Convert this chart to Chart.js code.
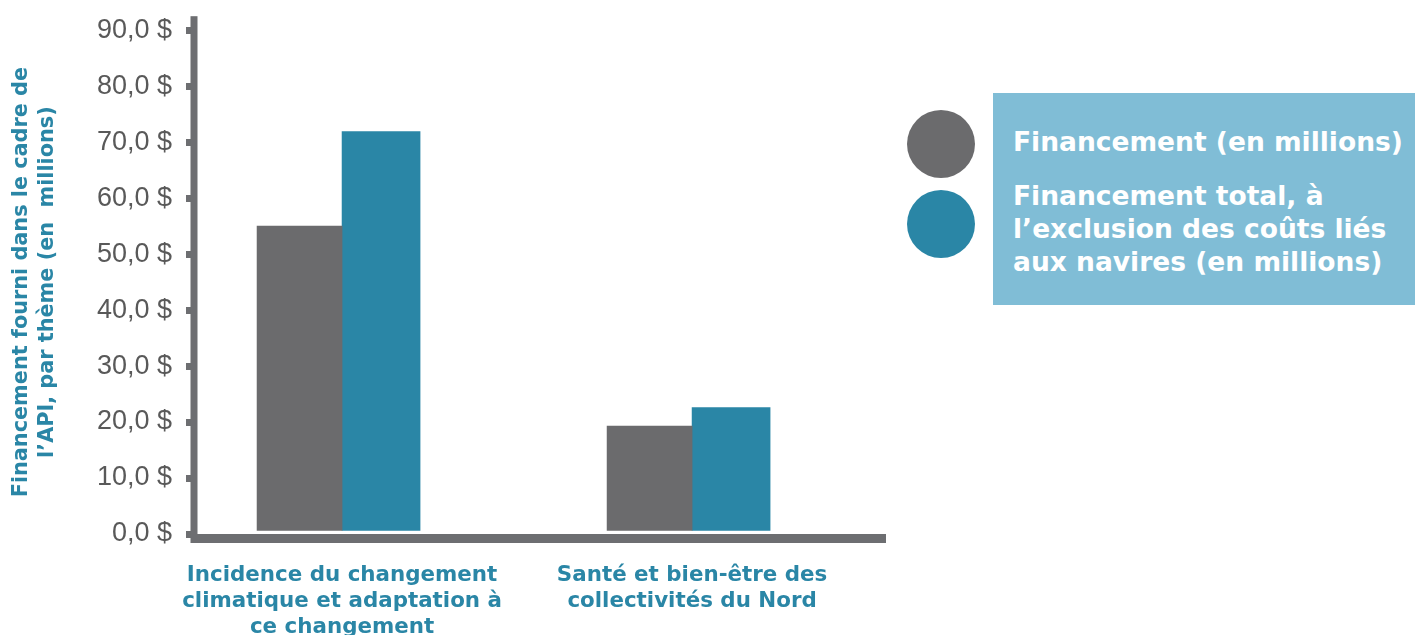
<!DOCTYPE html>
<html lang="fr">
<head>
<meta charset="utf-8">
<script src="https://cdn.jsdelivr.net/npm/chart.js@4.4.1/dist/chart.umd.min.js"></script>
<style>
  html, body { margin: 0; padding: 0; background: #ffffff; }
  #wrap { position: relative; width: 1415px; height: 635px; overflow: hidden; }
  #legend { position: absolute; left: 0; top: 0; width: 1415px; height: 635px; pointer-events: none; }
  .lg-box { position: absolute; left: 993px; top: 93px; width: 422px; height: 212px; background: #80bdd6; }
  .lg-dot { position: absolute; width: 68px; height: 68px; border-radius: 50%; left: 907px; }
  .lg-text { position: absolute; left: 1013px; color: #ffffff; font-family: "DejaVu Sans", sans-serif; font-weight: bold; font-size: 26.5px; line-height: 33px; white-space: nowrap; }
</style>
</head>
<body>
<div id="wrap">
  <canvas id="c" width="1415" height="635"></canvas>
  <div id="legend"></div>
</div>
<script>
// ---- data ----
const categories = [
  ["Incidence du changement", "climatique et adaptation à", "ce changement"],
  ["Santé et bien-être des", "collectivités du Nord"]
];
const seriesNames = [
  ["Financement (en millions)"],
  ["Financement total, à", "l’exclusion des coûts liés", "aux navires (en millions)"]
];
const financement = [55.0, 19.3];
const financementHorsNavires = [71.9, 22.6];
const yTickValues = [0, 10, 20, 30, 40, 50, 60, 70, 80, 90];
const yTitle = ["Financement fourni dans le cadre de", "l’API, par thème (en  millions)"];

// ---- style ----
const GRAY = "#6b6b6d";
const BLUE = "#2a86a6";
const TEAL = "#2a86a6";
const AXIS = "#6d6e71";

function toPoints(values) {
  return values.map((v, i) => ({ x: i + 1, y: v }));
}

const axesPlugin = {
  id: "axesLines",
  afterDatasetsDraw(chart) {
    const { ctx, chartArea } = chart;
    ctx.save();
    ctx.fillStyle = AXIS;
    ctx.fillRect(chartArea.left - 3.5, chartArea.top - 14, 7, chartArea.bottom - chartArea.top + 23);
    ctx.fillRect(chartArea.left - 2, chartArea.bottom, chartArea.right - chartArea.left + 2, 9);
    ctx.restore();
  }
};

const chart = new Chart(document.getElementById("c"), {
  type: "bar",
  data: {
    datasets: [
      { label: seriesNames[0].join(" "), data: toPoints(financement), backgroundColor: GRAY, barThickness: 85 },
      { label: seriesNames[1].join(" "), data: toPoints(financementHorsNavires), backgroundColor: BLUE, barThickness: 78 }
    ]
  },
  options: {
    responsive: false,
    animation: false,
    devicePixelRatio: 1,
    layout: { padding: { top: 30, right: 529, bottom: 0, left: 0 } },
    plugins: { legend: { display: false }, tooltip: { enabled: false } },
    scales: {
      x: {
        type: "linear",
        offset: false,
        bounds: "data",
        min: 0.577,
        max: 2.554,
        afterBuildTicks: (s) => { s.ticks = categories.map((c, i) => ({ value: i + 1 })); },
        afterFit: (s) => { s.height = 101; },
        grid: { display: false, drawTicks: false, offset: false },
        border: { display: false },
        ticks: {
          autoSkip: false,
          maxRotation: 0,
          padding: 29,
          color: TEAL,
          font: { family: "'DejaVu Sans', sans-serif", size: 21.4, weight: "bold", lineHeight: 1.2 },
          callback: (v) => categories[v - 1]
        }
      },
      y: {
        min: 0,
        max: 90,
        afterBuildTicks: (s) => { s.ticks = yTickValues.map(v => ({ value: v })); },
        afterFit: (s) => { s.width = 194; },
        grid: { drawOnChartArea: false, drawTicks: true, tickLength: 8, lineWidth: 7, color: AXIS },
        border: { display: false },
        ticks: {
          padding: 14,
          color: "#595959",
          font: { family: "'Liberation Sans', Arial, sans-serif", size: 27 },
          callback: (v) => v.toFixed(1).replace(".", ",") + " $"
        },
        title: {
          display: true,
          text: yTitle,
          color: TEAL,
          padding: { top: 9, bottom: 0 },
          font: { family: "'DejaVu Sans', sans-serif", size: 20.8, weight: "bold", lineHeight: 1.25 }
        }
      }
    }
  },
  plugins: [axesPlugin]
});

// ---- HTML legend built from the chart's datasets ----
const legend = document.getElementById("legend");
const box = document.createElement("div");
box.className = "lg-box";
legend.appendChild(box);
const dotTops = [110, 190];
const textTops = [125, 179];
chart.data.datasets.forEach((ds, i) => {
  const dot = document.createElement("div");
  dot.className = "lg-dot";
  dot.style.top = dotTops[i] + "px";
  dot.style.background = ds.backgroundColor;
  legend.appendChild(dot);
  const t = document.createElement("div");
  t.className = "lg-text";
  t.style.top = textTops[i] + "px";
  seriesNames[i].forEach((line, j) => {
    if (j) t.appendChild(document.createElement("br"));
    t.appendChild(document.createTextNode(line));
  });
  legend.appendChild(t);
});
</script>
</body>
</html>
